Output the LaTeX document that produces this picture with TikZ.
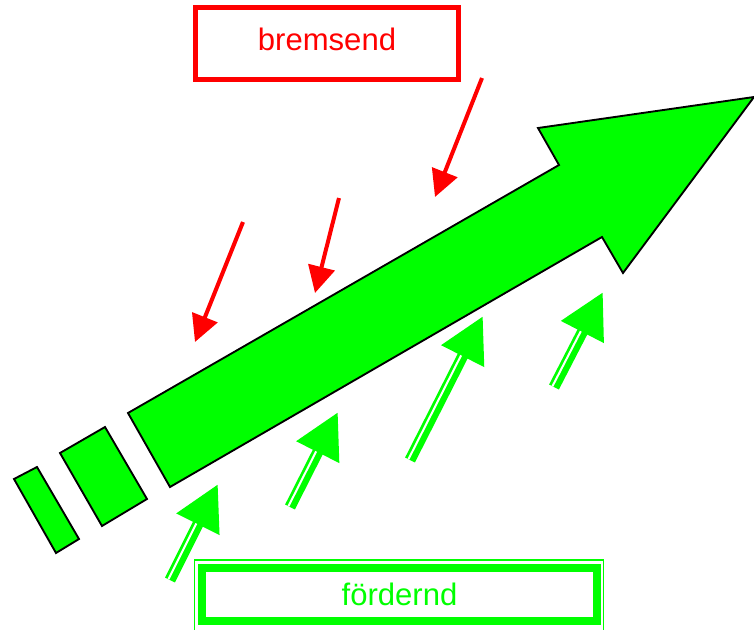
\documentclass[tikz,border=0pt]{standalone}
\usepackage{fontspec}
\setmainfont{Liberation Sans}
\usetikzlibrary{arrows.meta,calc}
\begin{document}
\begin{tikzpicture}[x=0.75pt,y=-0.75pt,
    block/.style={fill=green, draw=black, line width=1.4pt, line join=miter},
    bremse/.style={draw=red, line width=3pt, -{Triangle[length=20pt,width=20pt]}},
    foerder/.style={draw=green, line width=8.25pt, -{Triangle[length=33.75pt,width=33.75pt]}},
    luecke/.style={draw=white, line width=1.5pt},
    schrift/.style={font=\fontsize{23.3pt}{28pt}\selectfont}]
    \useasboundingbox (0,0) rectangle (754,629);
    % Bloecke und grosser Pfeil
    \draw [block] (14,479) -- (37,467) -- (79,539) -- (56,553) -- cycle;
    \draw [block] (60,453) -- (105,427) -- (147,499) -- (102,526) -- cycle;
    \draw [block] (128,413) -- (559,165) -- (538,128) -- (754,97) -- (623,273) -- (602,237) -- (170,487) -- cycle;
    % Kaesten
    \node [schrift, text=red, draw=red, line width=3.75pt, minimum width=197.25pt, minimum height=54pt, text depth=6.75pt] (brems) at (327,43.5) {bremsend};
    \node [schrift, text=green, draw=green, line width=6pt, minimum width=296.25pt, minimum height=40.1pt] (foerd) at (399.5,594.25) {fördernd};
    \draw [green, line width=1.1pt] ([shift={(-3.5,-3.5)}]foerd.north west) rectangle ([shift={(2.5,15)}]foerd.south east);
    % rote Pfeile
    \foreach \i/\a/\b in {1/{243,222}/{195,342}, 2/{339,198}/{315,293}, 3/{482,78}/{435,197}} {
        \coordinate (r\i a) at (\a);
        \coordinate (r\i b) at (\b);
        \draw [bremse] (r\i a) -- (r\i b);
    }
    % gruene Pfeile
    \foreach \i/\a/\b in {1/{170,580}/{218,484}, 2/{290,507}/{338,412}, 3/{410,460}/{483,316}, 4/{554,387}/{603,292}} {
        \coordinate (g\i a) at (\a);
        \coordinate (g\i b) at (\b);
        \coordinate (g\i c) at ($(g\i b)!33.75pt!(g\i a)$);
        \draw [foerder] (g\i a) -- (g\i b);
        \draw [luecke] ($(g\i a)!1.3pt!90:(g\i b)$) -- ($(g\i c)!1.3pt!-90:(g\i a)$);
    }
\end{tikzpicture}
\end{document}
